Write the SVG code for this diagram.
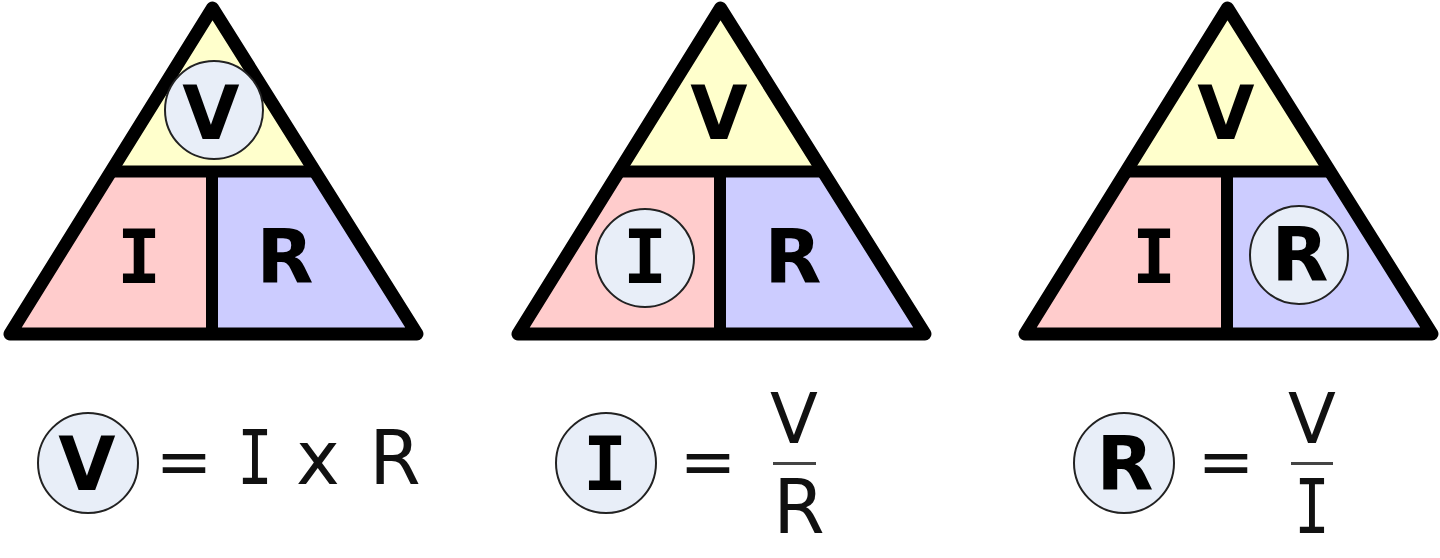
<svg xmlns="http://www.w3.org/2000/svg" xmlns:xlink="http://www.w3.org/1999/xlink" width="1440" height="558" viewBox="0 0 1440 558">
<style>
text{font-family:"DejaVu Sans",sans-serif;font-size:74px;fill:#000;text-anchor:middle}
.b{font-weight:bold}
.m{font-family:"DejaVu Sans Mono",monospace}
.r{fill:#111}
.e{font-size:68px}
.v{font-size:70px}
.c{fill:#e8eef8;stroke:#222;stroke-width:2}
.o{fill:none;stroke:#000;stroke-width:13;stroke-linejoin:round}
.h{fill:none;stroke:#000;stroke-width:12}
.f{fill:none;stroke:#444;stroke-width:3}
</style>
<defs>
<g id="tri">
<path d="M213 8L117 171.500H309Z" fill="#ffffcc"/>
<path d="M117 171.500L10 334H212V171.500Z" fill="#ffcccc"/>
<path d="M212 171.500V334H417L309 171.500Z" fill="#ccccff"/>
<path class="o" d="M212.500 8L10 334H417Z"/>
<path class="h" d="M113 171.500H313M212 171.500V334"/>
</g>
</defs>
<g id="triangle-v">
<use xlink:href="#tri" href="#tri"/>
<circle class="c" cx="214" cy="110" r="49"/>
<text class="b" x="211" y="139">V</text>
<text class="b m" x="139" y="283">I</text>
<text class="b" x="285" y="283">R</text>
</g>
<g id="triangle-i">
<use xlink:href="#tri" href="#tri" x="508"/>
<circle class="c" cx="645" cy="258" r="49"/>
<text class="b" x="719" y="139">V</text>
<text class="b m" x="645" y="283">I</text>
<text class="b" x="793" y="283">R</text>
</g>
<g id="triangle-r">
<use xlink:href="#tri" href="#tri" x="1015"/>
<circle class="c" cx="1299" cy="255" r="49"/>
<text class="b" x="1226" y="139">V</text>
<text class="b m" x="1154" y="283">I</text>
<text class="b" x="1300" y="281">R</text>
</g>
<g id="formula-v">
<circle class="c" cx="88" cy="463" r="50"/>
<text class="b" x="87" y="490">V</text>
<text class="r e" x="184" y="484.500">=</text>
<text class="r m" x="255" y="484" textLength="36" lengthAdjust="spacingAndGlyphs">I</text>
<text class="r" x="318" y="484">x</text>
<text class="r" x="395" y="484">R</text>
</g>
<g id="formula-i">
<circle class="c" cx="606" cy="463" r="50"/>
<text class="b m" x="605" y="490">I</text>
<text class="r e" x="708" y="484.500">=</text>
<text class="r v" x="794" y="443">V</text>
<path class="f" d="M773 463.500H816"/>
<text class="r" x="799" y="533">R</text>
</g>
<g id="formula-r">
<circle class="c" cx="1124" cy="463" r="50"/>
<text class="b" x="1125" y="490">R</text>
<text class="r e" x="1226" y="484.500">=</text>
<text class="r v" x="1312" y="443">V</text>
<path class="f" d="M1291 463.500H1333"/>
<text class="r m" x="1312" y="533" textLength="36" lengthAdjust="spacingAndGlyphs">I</text>
</g>
</svg>
